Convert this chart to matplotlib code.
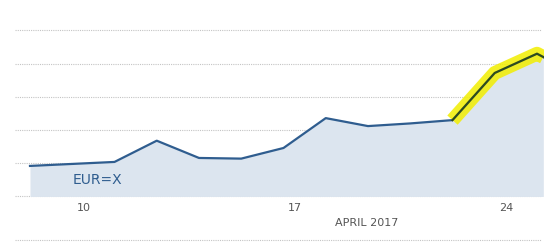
import matplotlib
matplotlib.use("Agg")
import matplotlib.pyplot as plt

# EUR=X daily closes, trading days from Apr 7 to Apr 25 2017
days = [0, 1, 2, 3, 4, 5, 6, 7, 8, 9, 10, 11, 12, 12.15]
rate = [1.0646, 1.0649, 1.0652, 1.0684, 1.0658, 1.0657, 1.0673,
        1.0718, 1.0706, 1.0710, 1.0715, 1.0786, 1.0815, 1.0810]
highlight_from = 10

tick_pos = [1, 6, 11]
tick_lab = ["10", "17", "24"]
grid_vals = [1.060, 1.065, 1.070, 1.075, 1.080, 1.085]

blue = "#2f5d8f"
fig = plt.figure(figsize=(5.44, 2.46), dpi=100)
ax = fig.add_axes([0, 0, 1, 1])
ax.set_xlim(-0.71, 12.166)
ax.set_ylim(1.05254, 1.08959)
ax.axis("off")

# dotted grid
for g in grid_vals:
    ax.axhline(g, xmin=15 / 544, xmax=541 / 544, color="#c4c4c4",
               lw=0.8, ls=(0, (1, 1)), zorder=1)
ax.plot([15 / 544, 541 / 544], [1 - 240 / 246] * 2, transform=ax.transAxes,
        color="#c4c4c4", lw=0.8, ls=(0, (1, 1)))

ax.fill_between(days, rate, grid_vals[0], color="#dce5ef", lw=0, zorder=2)
ax.plot(days, rate, color=blue, lw=1.6, zorder=3)

# highlighted last part
hx = days[highlight_from:]
hy = rate[highlight_from:]
ax.plot(hx, hy, color="#f2ee00", lw=10, alpha=0.85, solid_capstyle="butt", zorder=4)
ax.plot(hx, hy, color="#2c4a22", lw=1.6, zorder=5)

ax.text(1.02, 1.0625, "EUR=X", color=blue, fontsize=10, va="center", ha="left")
for p, l in zip(tick_pos, tick_lab):
    ax.text(p + 0.28, 1.0583, l, color="#555555", fontsize=8, ha="center", va="center")
ax.text(7.98, 1.0560, "APRIL 2017", color="#555555", fontsize=8, ha="center", va="center")

fig.savefig("out.png", dpi=100)
